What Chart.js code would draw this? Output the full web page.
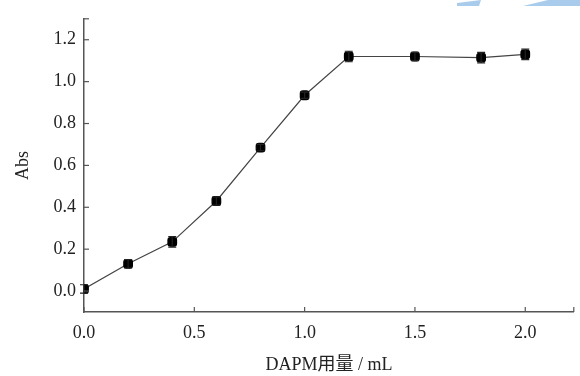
<!DOCTYPE html>
<html>
<head>
<meta charset="utf-8">
<script src="https://cdn.jsdelivr.net/npm/chart.js@4"></script>
<style>
  html, body { margin: 0; padding: 0; background: #fff; }
  #wrap { width: 580px; height: 376px; position: relative; }
</style>
</head>
<body>
<div id="wrap"><canvas id="chart"></canvas></div>
<script>
const dosage = [0, 0.2, 0.4, 0.6, 0.8, 1.0, 1.2, 1.5, 1.8, 2.0];
const absValues = [0.01, 0.13, 0.235, 0.43, 0.685, 0.935, 1.12, 1.12, 1.115, 1.13];
const absErrors = [0.02, 0.02, 0.025, 0.02, 0.015, 0.015, 0.025, 0.02, 0.025, 0.025];
const xTicks = [0, 0.5, 1.0, 1.5, 2.0];
const yTicks = [0, 0.2, 0.4, 0.6, 0.8, 1.0, 1.2];

const serif = "'Liberation Serif', 'DejaVu Serif', serif";
const axisColor = "#555";

// error bars plus inward tick marks
const extras = {
  id: "extras",
  beforeDraw(chart) {
    // light blue watermark strokes at the top right
    const ctx = chart.ctx;
    ctx.save();
    ctx.fillStyle = "#aaccec";
    ctx.beginPath();
    ctx.moveTo(457, 3); ctx.lineTo(481, 0); ctx.lineTo(479, 6); ctx.lineTo(457, 6);
    ctx.closePath(); ctx.fill();
    ctx.beginPath();
    ctx.moveTo(523, 6); ctx.lineTo(548, 0); ctx.lineTo(580, 0); ctx.lineTo(580, 6);
    ctx.closePath(); ctx.fill();
    ctx.restore();
  },
  afterDatasetsDraw(chart) {
    const ctx = chart.ctx;
    const x = chart.scales.x;
    const y = chart.scales.y;
    ctx.save();
    ctx.strokeStyle = "#222";
    ctx.lineWidth = 1.2;
    dosage.forEach((d, i) => {
      const px = x.getPixelForValue(d);
      const top = y.getPixelForValue(absValues[i] + absErrors[i]);
      const bot = y.getPixelForValue(absValues[i] - absErrors[i]);
      ctx.beginPath();
      ctx.moveTo(px, top); ctx.lineTo(px, bot);
      ctx.moveTo(px - 4, top); ctx.lineTo(px + 4, top);
      ctx.moveTo(px - 4, bot); ctx.lineTo(px + 4, bot);
      ctx.stroke();
    });
    ctx.strokeStyle = axisColor;
    ctx.lineWidth = 1.2;
    const area = chart.chartArea;
    xTicks.concat([x.max]).forEach(v => {
      const px = x.getPixelForValue(v);
      ctx.beginPath();
      ctx.moveTo(px, area.bottom); ctx.lineTo(px, area.bottom - 5);
      ctx.stroke();
    });
    yTicks.concat([y.max]).forEach(v => {
      const py = y.getPixelForValue(v);
      ctx.beginPath();
      ctx.moveTo(area.left, py); ctx.lineTo(area.left + 5, py);
      ctx.stroke();
    });
    ctx.restore();
  }
};

new Chart(document.getElementById("chart"), {
  type: "scatter",
  data: {
    datasets: [{
      data: dosage.map((d, i) => ({ x: d, y: absValues[i] })),
      showLine: true,
      borderColor: "#444",
      borderWidth: 1.2,
      backgroundColor: "#000",
      pointBackgroundColor: "#000",
      pointBorderColor: "#000",
      pointStyle: "rectRounded",
      pointRadius: 5,
      pointHoverRadius: 5
    }]
  },
  options: {
    responsive: true,
    maintainAspectRatio: false,
    animation: false,
    layout: { padding: { top: 15, right: 0, left: 0, bottom: 0 } },
    plugins: { legend: { display: false }, tooltip: { enabled: false } },
    scales: {
      x: {
        type: "linear",
        min: 0,
        max: 2.22,
        afterBuildTicks(scale) { scale.ticks = xTicks.map(v => ({ value: v })); },
        afterFit(scale) { scale.height = 64; },
        grid: { display: false, drawTicks: false },
        border: { display: true, color: axisColor, width: 1.5 },
        ticks: {
          color: "#222",
          padding: 10,
          maxRotation: 0,
          font: { family: serif, size: 18 },
          callback: v => v.toFixed(1)
        },
        title: {
          display: true,
          text: "DAPM用量 / mL",
          color: "#222",
          padding: { top: 0, bottom: 0 },
          font: { family: "'Liberation Serif', 'Noto Sans CJK SC', serif", size: 18 }
        }
      },
      y: {
        min: -0.1,
        max: 1.3,
        afterBuildTicks(scale) { scale.ticks = yTicks.map(v => ({ value: v })); },
        afterFit(scale) { scale.width = 84; },
        grid: { display: false, drawTicks: false },
        border: { display: true, color: axisColor, width: 1.5 },
        ticks: {
          color: "#222",
          padding: 8,
          font: { family: serif, size: 18 },
          callback: v => v.toFixed(1)
        },
        title: {
          display: true,
          text: "Abs",
          color: "#222",
          padding: { top: 12, bottom: 0 },
          font: { family: serif, size: 18 }
        }
      }
    }
  },
  plugins: [extras]
});
</script>
</body>
</html>
